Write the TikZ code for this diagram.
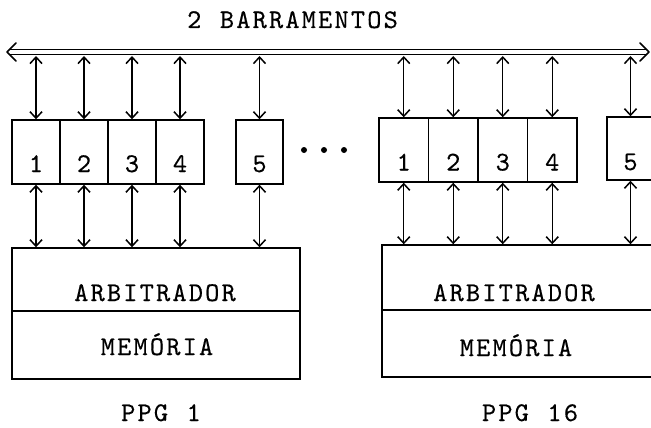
\documentclass[tikz,border=0pt]{standalone}
\usepackage{fontspec}
\usetikzlibrary{arrows.meta}
% slightly emboldened typewriter face
\newfontfamily\typer[FakeBold=0.4]{lmmono10-regular.otf}
% typewriter-style letter spacing: a fixed kern between characters (use ~ for a space)
\newlength\lsp
\setlength\lsp{2.2pt}
\newcommand\spaced[1]{\spacedA#1\relax}
\def\spacedA#1{#1\spacedB}
\def\spacedB#1{\ifx#1\relax\else\kern\lsp #1\expandafter\spacedB\fi}
\begin{document}
\begin{tikzpicture}[x=1pt,y=-1pt,
  box/.style={draw, line width=1.4pt, inner sep=0pt},
  cell/.style={box, minimum width=48pt, minimum height=64pt},
  lnk/.style={line width=1.3pt,
    {Straight Barb[length=6.5pt,width=12pt,line width=1.5pt]}-{Straight Barb[length=6.5pt,width=12pt,line width=1.5pt]}},
  txt/.style={inner sep=0pt, anchor=base, font=\typer\fontsize{27}{31}\selectfont},
  ]
\useasboundingbox (0,0) rectangle (651,428);
\clip (0,0) rectangle (651,428);

% title and the double bus
\node[txt] (title) at (292.5,28) {\spaced{2~BARRAMENTOS}};
\coordinate (busL) at (7,52);
\coordinate (busR) at (649,52);
\coordinate (busB) at (0,56);
\draw[line width=1.1pt, double, double distance=3.4pt, shorten <=3pt, shorten >=3pt] (busL) -- (busR);
\draw[line width=1.6pt, line join=round, line cap=round]
  ([xshift=9pt,yshift=9pt]busL) -- (busL) -- ([xshift=9pt,yshift=-9pt]busL);
\draw[line width=1.6pt, line join=round, line cap=round]
  ([xshift=-9pt,yshift=9pt]busR) -- (busR) -- ([xshift=-9pt,yshift=-9pt]busR);

% PPG 1: processor cells
\node[cell] (L1) at (36,152) {};
\node[cell] (L2) at (84,152) {};
\node[cell] (L3) at (132,152) {};
\node[cell] (L4) at (180,152) {};
\node[cell, minimum width=47pt] (L5) at (259.5,152) {};
\node[txt] (L1n) at (L1.center |- 0,172) {1};
\node[txt] (L2n) at (L2.center |- 0,172) {2};
\node[txt] (L3n) at (L3.center |- 0,172) {3};
\node[txt] (L4n) at (L4.center |- 0,172) {4};
\node[txt] (L5n) at (L5.center |- 0,172) {5};

% PPG 1: arbiter and memory
\node[box, minimum width=288pt, minimum height=63pt] (LA) at (156,279.5) {};
\node[box, minimum width=288pt, minimum height=68pt] (LM) at (156,345) {};
\node[txt] (LAt) at (155,301) {\spaced{ARBITRADOR}};
\node[txt] (LMt) at (157,355) {\spaced{MEMÓRIA}};
\node[txt] (LP) at (161,421) {\spaced{PPG~1}};

% ellipsis between the groups
\fill (304,150) circle (3pt) (324,150) circle (3pt) (344,150) circle (3pt);

% PPG 16: processor cells
\node[cell, minimum width=49.5pt] (R1) at (403.75,150) {};
\node[cell, minimum width=49.5pt] (R2) at (453.25,150) {};
\node[cell, minimum width=49.5pt] (R3) at (502.75,150) {};
\node[cell, minimum width=49.5pt] (R4) at (552.25,150) {};
\node[cell, minimum width=47pt, minimum height=63pt] (R5) at (630.5,148.5) {};
\node[txt] (R1n) at (R1.center |- 0,170.5) {1};
\node[txt] (R2n) at (R2.center |- 0,170.5) {2};
\node[txt] (R3n) at (R3.center |- 0,170.5) {3};
\node[txt] (R4n) at (R4.center |- 0,170.5) {4};
\node[txt] (R5n) at (R5.center |- 0,170) {5};

% PPG 16: arbiter and memory
\node[box, minimum width=288pt, minimum height=65pt] (RA) at (526,277.5) {};
\node[box, minimum width=288pt, minimum height=67pt] (RM) at (526,343.5) {};
\node[txt] (RAt) at (514,301) {\spaced{ARBITRADOR}};
\node[txt] (RMt) at (516,356) {\spaced{MEMÓRIA}};
\node[txt] (RP) at (530,421) {\spaced{PPG~16}};

% links: bus to cells, cells to arbiters
\foreach \c/\a in {L1/LA,L2/LA,L3/LA,L4/LA,L5/LA,R1/RA,R2/RA,R3/RA,R4/RA,R5/RA}{
  \draw[lnk] (\c.north |- busB) -- (\c.north);
  \draw[lnk] (\c.south) -- (\c.south |- \a.north);
}
\end{tikzpicture}
\end{document}
